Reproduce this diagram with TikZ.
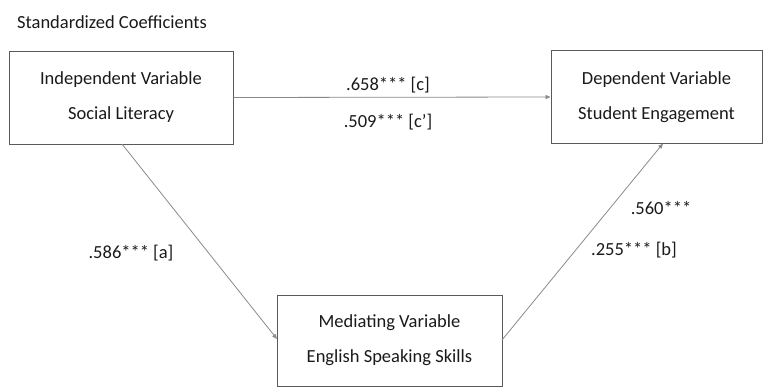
\documentclass[tikz,border=0pt]{standalone}
\usepackage{fontspec}
\setmainfont{Carlito}
\usetikzlibrary{arrows.meta}
\definecolor{boxline}{HTML}{5A5A5A}
\definecolor{arrline}{HTML}{8A8A8A}
\definecolor{txt}{HTML}{1A1A1A}
\begin{document}
\begin{tikzpicture}[x=1pt,y=-1pt,
  varbox/.style={draw=boxline,line width=0.9pt,fill=white,text=txt,align=center,font=\fontsize{18.5}{35}\selectfont,inner sep=0pt},
  lbl/.style={text=txt,font=\fontsize{18.5}{22}\selectfont,inner sep=0pt},
  conn/.style={draw=arrline,line width=0.8pt,-{Triangle[length=5pt,width=4pt]}}]
\useasboundingbox (0,0) rectangle (763,388);
\node[lbl,anchor=west] (title) at (17,22) {Standardized Coefficients};
\node[varbox,minimum width=224pt,minimum height=93pt] (iv) at (121,97.5) {Independent Variable\\Social Literacy};
\node[varbox,minimum width=211pt,minimum height=93pt] (dv) at (656.5,97) {Dependent Variable\\Student Engagement};
\node[varbox,minimum width=225pt,minimum height=91pt] (mv) at (389.5,340.5) {Mediating Variable\\English Speaking Skills};
\coordinate (ivb) at (122,144);
\coordinate (mvl) at (277,339);
\coordinate (mvr) at (502,340);
\coordinate (dvb) at (663,143.5);
\draw[conn] (iv.east) -- (dv.west);
\draw[conn] (ivb) -- (mvl);
\draw[conn] (mvr) -- (dvb);
\node[lbl] (c) at (388,85) {.658*** [c]};
\node[lbl] (cp) at (388,122) {.509*** [c']};
\node[lbl] (a) at (131,253) {.586*** [a]};
\node[lbl] (b1) at (661,208) {.560***};
\node[lbl] (b2) at (634,250) {.255*** [b]};
\end{tikzpicture}
\end{document}
